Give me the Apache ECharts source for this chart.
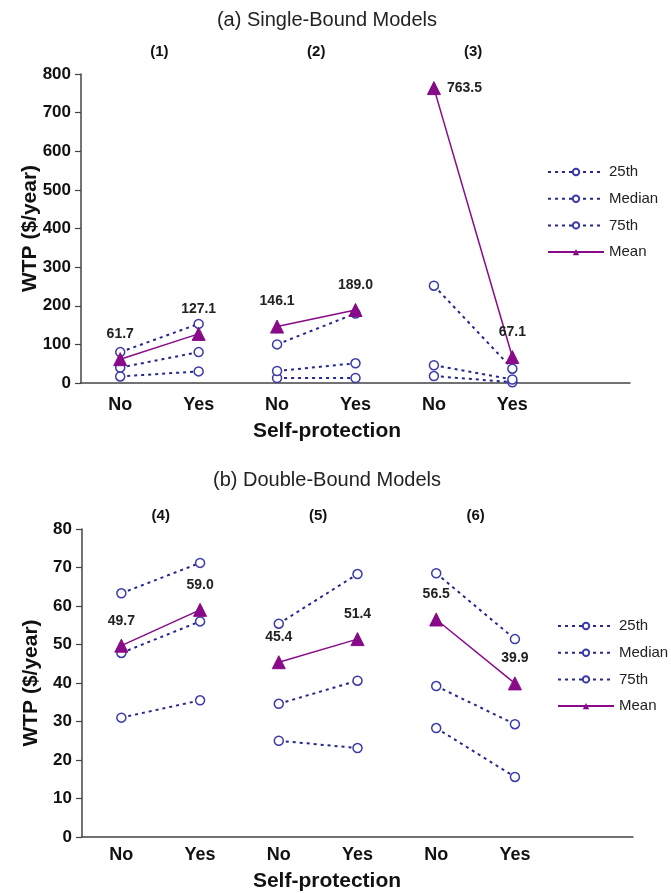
<!DOCTYPE html>
<html>
<head>
<meta charset="utf-8">
<script src="https://cdn.jsdelivr.net/npm/echarts@6/dist/echarts.min.js"></script>
<style>
  html, body { margin: 0; padding: 0; background: #fff; }
  #chart { width: 671px; height: 893px; }
</style>
</head>
<body>
<div id="chart"></div>
<script>
// categories: three model pairs, last slot left empty for the legend
var cats = ['No', 'Yes', 'No', 'Yes', 'No', 'Yes', ''];
var groupsA = ['(1)', '(2)', '(3)'];
var groupsB = ['(4)', '(5)', '(6)'];
var statNames = ['25th', 'Median', '75th', 'Mean'];

// (a) single-bound models
var topP25 = [17, 30, 13, 13, 18, 2];
var topMedian = [40, 80, 31, 51, 46, 9];
var topP75 = [80, 153, 100, 180, 252, 37];
var topMean = [61.7, 127.1, 146.1, 189.0, 763.5, 67.1];

// (b) double-bound models
var botP25 = [31.0, 35.5, 25.0, 23.1, 28.3, 15.6];
var botMedian = [47.8, 56.0, 34.6, 40.6, 39.2, 29.3];
var botP75 = [63.3, 71.2, 55.4, 68.3, 68.5, 51.4];
var botMean = [49.7, 59.0, 45.4, 51.4, 56.5, 39.9];

var FONT = '"Liberation Sans", Arial, Helvetica, sans-serif';
var NAVY = '#26268f';
var PURPLE = '#880a88';

function pairSeries(axisIdx, name, vals, isMean) {
    var out = [];
    for (var g = 0; g < 3; g++) {
        var data = cats.map(function (c, i) {
            if (i !== 2 * g && i !== 2 * g + 1) return '-';
            var item = { value: vals[i] };
            // the big mean in panel (3) has its label on the right
            if (isMean && vals[i] > 700) item.label = { position: 'right', distance: 6 };
            return item;
        });
        var s = {
            name: name,
            type: 'line',
            xAxisIndex: axisIdx,
            yAxisIndex: axisIdx,
            data: data,
            animation: false,
            connectNulls: false
        };
        if (isMean) {
            s.symbol = 'triangle';
            s.symbolSize = 13;
            s.z = 5;
            s.lineStyle = { color: PURPLE, width: 1.5, type: 'solid' };
            s.itemStyle = { color: PURPLE, borderColor: PURPLE };
            s.label = {
                show: true, position: 'top', distance: 11,
                formatter: function (p) { return p.value.toFixed(1); },
                fontFamily: FONT, fontWeight: 'bold', fontSize: 14, color: '#222'
            };
        } else {
            s.symbol = 'circle';
            s.symbolSize = 9;
            s.lineStyle = { color: NAVY, width: 2, type: [3, 4] };
            s.itemStyle = { color: '#fff', borderColor: '#3a3aa8', borderWidth: 1.5 };
        }
        out.push(s);
    }
    return out;
}

var series = [];
[[topP25, 'p'], [topMedian, 'p'], [topP75, 'p'], [topMean, 'm']].forEach(function (d, k) {
    series = series.concat(pairSeries(0, statNames[k], d[0], d[1] === 'm'));
});
[[botP25, 'p'], [botMedian, 'p'], [botP75, 'p'], [botMean, 'm']].forEach(function (d, k) {
    series = series.concat(pairSeries(1, statNames[k], d[0], d[1] === 'm'));
});

function catAxis(grid, labelMargin, nameGap, namePad) {
    return {
        type: 'category', gridIndex: grid, data: cats, position: 'bottom',
        axisLine: { lineStyle: { color: '#444', width: 1.5 } },
        axisTick: { show: false },
        axisLabel: { fontFamily: FONT, fontWeight: 'bold', fontSize: 18, color: '#111', margin: labelMargin, interval: 0 },
        name: 'Self-protection', nameLocation: 'middle', nameGap: nameGap, nameMoveOverlap: false,
        nameTextStyle: { fontFamily: FONT, fontWeight: 'bold', fontSize: 21, color: '#111', padding: [0, namePad, 0, 0] }
    };
}

function groupAxis(grid, labels, margin) {
    return {
        type: 'value', gridIndex: grid, position: 'top', min: 0, max: 7, interval: 1,
        axisLine: { show: false }, axisTick: { show: false }, splitLine: { show: false },
        axisLabel: {
            margin: margin, fontFamily: FONT, fontWeight: 'bold', fontSize: 15, color: '#111',
            formatter: function (v) { return v % 2 === 1 && v < 6 ? labels[(v - 1) / 2] : ''; }
        }
    };
}

function valAxis(grid, max, interval) {
    return {
        type: 'value', gridIndex: grid, min: 0, max: max, interval: interval,
        axisLine: { show: true, lineStyle: { color: '#444', width: 1.5 } },
        axisTick: { show: true, length: 6, lineStyle: { color: '#444', width: 1.2 } },
        splitLine: { show: false },
        axisLabel: { fontFamily: FONT, fontWeight: 'bold', fontSize: 17, color: '#111', margin: 10 },
        name: 'WTP ($/year)', nameLocation: 'middle', nameRotate: 90, nameGap: 40, nameMoveOverlap: false,
        nameTextStyle: { fontFamily: FONT, fontWeight: 'bold', fontSize: 21, color: '#111' }
    };
}

function legendAt(left, top) {
    return {
        data: statNames, orient: 'vertical', left: left, top: top,
        itemWidth: 56, itemHeight: 8, itemGap: 11.7,
        textStyle: { fontFamily: FONT, fontSize: 15, color: '#222' }
    };
}

var myChart = echarts.init(document.getElementById('chart'));
var option = {
    backgroundColor: '#fff',
    animation: false,
    graphic: [
        { type: 'text', x: 327, y: 20, style: { text: '(a) Single-Bound Models', fontFamily: FONT, fontSize: 20, fill: '#222', align: 'center', verticalAlign: 'middle' } },
        { type: 'text', x: 327, y: 480, style: { text: '(b) Double-Bound Models', fontFamily: FONT, fontSize: 20, fill: '#222', align: 'center', verticalAlign: 'middle' } }
    ],
    legend: [legendAt(542, 159.5), legendAt(552, 613.5)],
    grid: [
        { left: 81, top: 74, width: 549, height: 309 },
        { left: 82, top: 529, width: 551, height: 308 }
    ],
    xAxis: [
        catAxis(0, 13, 38, 57),
        catAxis(1, 9, 34, 61),
        groupAxis(0, groupsA, 15),
        groupAxis(1, groupsB, 6)
    ],
    yAxis: [valAxis(0, 800, 100), valAxis(1, 80, 10)],
    series: series
};
myChart.setOption(option);
</script>
</body>
</html>
